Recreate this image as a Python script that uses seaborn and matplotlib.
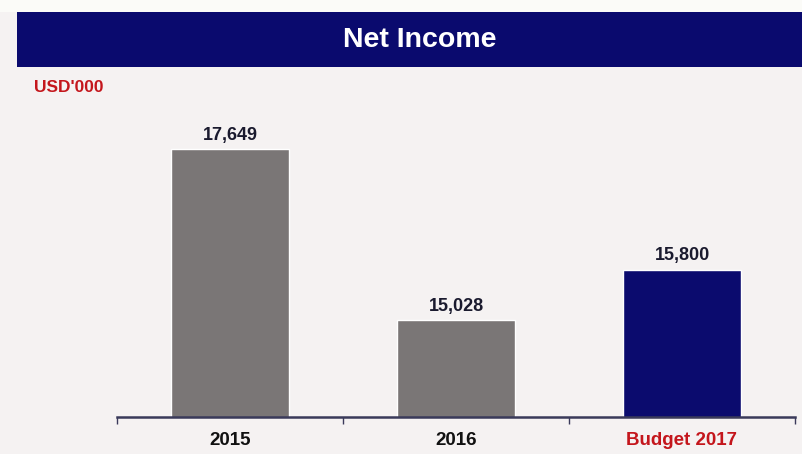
import matplotlib
matplotlib.use("Agg")
import matplotlib.pyplot as plt
from matplotlib.patches import Rectangle
import seaborn as sns
import pandas as pd

# Net income by period (USD'000)
periods = ["2015", "2016", "Budget 2017"]
net_income = [17649, 15028, 15800]
bar_colors = ["#7a7676", "#7a7676", "#0b0b6e"]
label_colors = ["#111111", "#111111", "#c4161c"]

df = pd.DataFrame({"period": periods, "value": net_income})

sns.set_theme(style="white")
plt.rcParams["font.family"] = ["Liberation Sans", "DejaVu Sans"]

bg = "#f5f2f2"
fig = plt.figure(figsize=(8.02, 4.54), dpi=100, facecolor=bg)

# header banner
fig.patches.append(Rectangle((0, 1 - 12 / 454), 1, 12 / 454, transform=fig.transFigure,
                             facecolor="#fbfbf8", edgecolor="none", zorder=0))
fig.patches.append(Rectangle((17 / 802, 1 - 67 / 454), 1 - 17 / 802, 55 / 454,
                             transform=fig.transFigure, facecolor="#0a0a6e",
                             edgecolor="none", zorder=1))
fig.text(420 / 802, 1 - 40 / 454, "Net Income", color="white", fontsize=20.5,
         fontweight="bold", ha="center", va="center")
fig.text(34 / 802, 1 - 88 / 454, "USD'000", color="#c4161c", fontsize=12.5,
         fontweight="bold", ha="left", va="center")

ax = fig.add_axes([117 / 802, 37 / 454, 678 / 802, 337 / 454])
ax.set_facecolor(bg)

sns.barplot(data=df, x="period", y="value", hue="period", palette=bar_colors,
            width=0.52, legend=False, ax=ax, saturation=1)

ax.set_xlim(-0.5, 2.5)
ax.set_ylim(13550, 18710)

for p, v in zip(ax.patches, net_income):
    ax.annotate(f"{v:,}", (p.get_x() + p.get_width() / 2, v),
                xytext=(0, 4), textcoords="offset points", ha="center", va="bottom",
                fontsize=13, fontweight="bold", color="#1a1a2e")

for side in ["top", "right", "left"]:
    ax.spines[side].set_visible(False)
ax.spines["bottom"].set_color("#3a3a5a")
ax.spines["bottom"].set_linewidth(1.8)

ax.set_yticks([])
ax.set_xlabel("")
ax.set_ylabel("")
ax.set_xticks(range(len(periods)))
ax.set_xticklabels(periods, fontsize=13.5, fontweight="bold")
for lbl, c in zip(ax.get_xticklabels(), label_colors):
    lbl.set_color(c)
ax.tick_params(axis="x", which="major", length=0, pad=11)
ax.set_xticks([-0.5, 0.5, 1.5, 2.5], minor=True)
ax.tick_params(axis="x", which="minor", length=5, width=1, color="#3a3a5a",
               direction="out", bottom=True)

fig.savefig("out.png", dpi=100, facecolor=bg)
